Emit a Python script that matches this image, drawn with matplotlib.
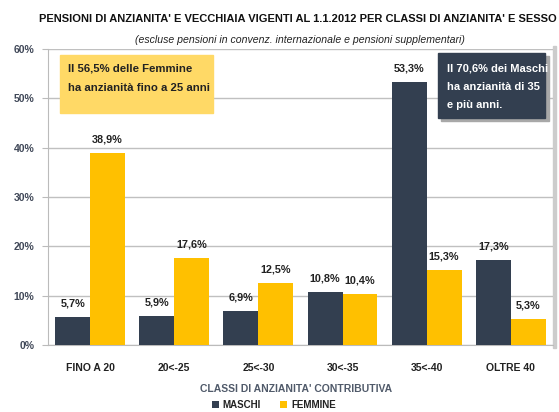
import matplotlib.pyplot as plt
import numpy as np
from matplotlib.patches import Rectangle

categories = ['FINO A 20', '20<-25', '25<-30', '30<-35', '35<-40', 'OLTRE 40']
maschi = [5.7, 5.9, 6.9, 10.8, 53.3, 17.3]
femmine = [38.9, 17.6, 12.5, 10.4, 15.3, 5.3]
yticks = [0, 10, 20, 30, 40, 50, 60]

navy = '#333f50'
gold = '#ffc000'
plt.rcParams['font.family'] = ['Liberation Sans', 'DejaVu Sans']

fig = plt.figure(figsize=(5.59, 4.12), dpi=100)
ax = fig.add_axes([0.086, 0.1626, 0.903, 0.7184])

x = np.arange(len(categories))
w = 0.415
ax.bar(x - w / 2, maschi, w, color=navy, label='MASCHI', zorder=3)
ax.bar(x + w / 2, femmine, w, color=gold, label='FEMMINE', zorder=3)

def pct(v):
    return f'{v:.1f}%'.replace('.', ',')

for i in range(len(categories)):
    ax.text(x[i] - w / 2, maschi[i] + 1.7, pct(maschi[i]), ha='center', va='bottom',
            fontsize=7.8, fontweight='bold', color='#222222', zorder=6)
    ax.text(x[i] + w / 2, femmine[i] + 1.7, pct(femmine[i]), ha='center', va='bottom',
            fontsize=7.8, fontweight='bold', color='#222222', zorder=6)

ax.set_xlim(-0.5, len(categories) - 0.5)
ax.set_ylim(0, 60)
ax.set_yticks(yticks)
ax.set_yticklabels([f'{t}%' for t in yticks], fontsize=7.5, fontweight='bold', color='#404858')
ax.set_xticks(x)
ax.set_xticklabels(categories, fontsize=7.5, fontweight='bold', color='#222222')
ax.tick_params(axis='x', length=0, pad=13)
ax.tick_params(axis='y', length=4, color='#bbbbbb', pad=6)
ax.grid(axis='y', color='#c0c0c0', linewidth=1, zorder=0)
for s in ['top', 'right']:
    ax.spines[s].set_visible(False)
ax.spines['left'].set_color('#bbbbbb')
ax.spines['bottom'].set_color('#bbbbbb')

# shadow on the right of plot area
ax.add_patch(Rectangle((1.0, -0.01), 0.006, 1.02, transform=ax.transAxes,
                       color='#cccccc', clip_on=False, zorder=1))

# annotation boxes
ax.add_patch(Rectangle((-0.357, 47.0), 1.817, 11.8, color='#ffd966', zorder=4))
ax.text(-0.262, 56.0, 'Il 56,5% delle Femmine', fontsize=8.2, fontweight='bold',
        color='#222222', va='center', ha='left', zorder=5)
ax.text(-0.262, 52.1, 'ha anzianità fino a 25 anni', fontsize=8.2, fontweight='bold',
        color='#222222', va='center', ha='left', zorder=5)

ax.add_patch(Rectangle((4.17, 45.4), 1.28, 13.2, color='#a8a8a8', zorder=4, clip_on=False))
ax.add_patch(Rectangle((4.13, 46.0), 1.28, 13.2, color=navy, zorder=4, clip_on=False))
for yy, line in zip([56.0, 52.4, 48.7], ['Il 70,6% dei Maschi', 'ha anzianità di 35', 'e più anni.']):
    ax.text(4.24, yy, line, fontsize=8, fontweight='bold', color='white',
            va='center', ha='left', zorder=5, clip_on=False)

fig.text(0.533, 0.953, "PENSIONI DI ANZIANITA' E VECCHIAIA VIGENTI AL 1.1.2012 PER CLASSI DI ANZIANITA' E SESSO",
         ha='center', va='center', fontsize=8, fontweight='bold', color='#111111')
fig.text(0.537, 0.903, '(escluse pensioni in convenz. internazionale e pensioni supplementari)',
         ha='center', va='center', fontsize=7.6, style='italic', color='#222222')

fig.text(0.53, 0.056, "CLASSI DI ANZIANITA' CONTRIBUTIVA", ha='center', va='center',
         fontsize=7.5, fontweight='bold', color='#505a6a')

handles, labels = ax.get_legend_handles_labels()
leg = fig.legend(handles, labels, loc='center', bbox_to_anchor=(0.49, 0.018), ncol=2,
                 frameon=False, handlelength=0.7, handleheight=0.7, columnspacing=2.0,
                 handletextpad=0.4, borderpad=0, prop={'weight': 'bold', 'size': 7})
for t in leg.get_texts():
    t.set_color('#222222')

fig.savefig('out.png', dpi=100)
